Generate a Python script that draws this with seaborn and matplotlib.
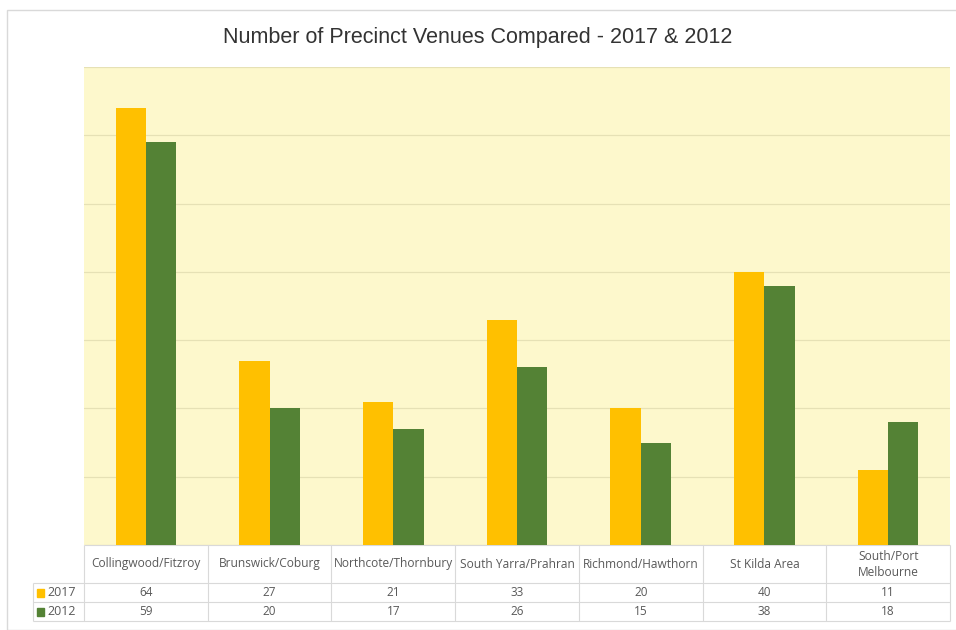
import pandas as pd
import matplotlib.pyplot as plt
from matplotlib.patches import Rectangle
import seaborn as sns

precincts = ['Collingwood/Fitzroy', 'Brunswick/Coburg', 'Northcote/Thornbury',
             'South Yarra/Prahran', 'Richmond/Hawthorn', 'St Kilda Area',
             'South/Port\nMelbourne']
venues_2017 = [64, 27, 21, 33, 20, 40, 11]
venues_2012 = [59, 20, 17, 26, 15, 38, 18]
years = ['2017', '2012']
colors = ['#FFC000', '#548235']

df = pd.DataFrame({
    'precinct': precincts * 2,
    'venues': venues_2017 + venues_2012,
    'year': ['2017'] * len(precincts) + ['2012'] * len(precincts),
})

sns.set_style('white')
plt.rcParams['font.family'] = ['Liberation Sans', 'DejaVu Sans']

fig = plt.figure(figsize=(9.56, 6.3), dpi=100)
ax = fig.add_axes([84 / 956, 1 - 545 / 630, (950 - 84) / 956, (545 - 67) / 630])
ax.set_facecolor('#FDF8CC')

sns.barplot(data=df, x='precinct', y='venues', hue='year', hue_order=years,
            palette=colors, width=0.49, saturation=1, legend=False, ax=ax,
            linewidth=0, edgecolor='none', zorder=3)

ax.set_ylim(0, 70)
ax.set_xlim(-0.5, len(precincts) - 0.5)
ax.set_yticks(range(0, 71, 10))
ax.yaxis.grid(True, color='#E6E1B5', linewidth=0.9, zorder=0)
ax.set_axisbelow(True)
ax.set_yticklabels([])
ax.set_xticks([])
ax.set_xlabel('')
ax.set_ylabel('')
ax.tick_params(left=False, bottom=False)
for s in ax.spines.values():
    s.set_visible(False)

fig.text(0.5, 1 - 38 / 630, 'Number of Precinct Venues Compared - 2017 & 2012',
         ha='center', va='center', fontsize=15.5, color='#333333')

# data table under the bars
tr = ax.get_xaxis_transform()
line_c = '#D9D9D9'
n = len(precincts)
y_head = -38 / 478
y_r1 = -57 / 478
y_r2 = -76 / 478
x_lab = -0.5 - 51 / 123.7
for i in range(n + 1):
    ax.vlines(i - 0.5, y_r2, 0, transform=tr, color=line_c, lw=0.8, clip_on=False)
ax.vlines(x_lab, y_r2, y_head, transform=tr, color=line_c, lw=0.8, clip_on=False)
ax.hlines(0, -0.5, n - 0.5, transform=tr, color=line_c, lw=0.8, clip_on=False)
for yy in [y_head, y_r1, y_r2]:
    ax.hlines(yy, x_lab, n - 0.5, transform=tr, color=line_c, lw=0.8, clip_on=False)

tfont = ['Open Sans', 'DejaVu Sans']
for i, name in enumerate(precincts):
    ax.text(i, y_head / 2, name, transform=tr, ha='center', va='center',
            fontsize=8.6, color='#595959', family=tfont, linespacing=1.3)
    ax.text(i, (y_head + y_r1) / 2, str(venues_2017[i]), transform=tr,
            ha='center', va='center', fontsize=8.5, color='#595959', family=tfont)
    ax.text(i, (y_r1 + y_r2) / 2, str(venues_2012[i]), transform=tr,
            ha='center', va='center', fontsize=8.5, color='#595959', family=tfont)

# legend keys in the row headers
key_w = 7 / 123.7
key_h = 8 / 478
for yr, c, (ya, yb) in zip(years, colors, [(y_head, y_r1), (y_r1, y_r2)]):
    ym = (ya + yb) / 2
    ax.add_patch(Rectangle((x_lab + 4 / 123.7, ym - key_h / 2), key_w, key_h,
                           transform=tr, color=c, clip_on=False))
    ax.text(x_lab + 14 / 123.7, ym, yr, transform=tr, ha='left', va='center',
            fontsize=9, color='#595959', family=tfont)

# outer chart border
fig.patches.append(Rectangle((7 / 956, 0), 1, 1 - 10 / 630, transform=fig.transFigure,
                             fill=False, edgecolor='#D9D9D9', lw=1))

fig.savefig('out.png', dpi=100, facecolor='white')
